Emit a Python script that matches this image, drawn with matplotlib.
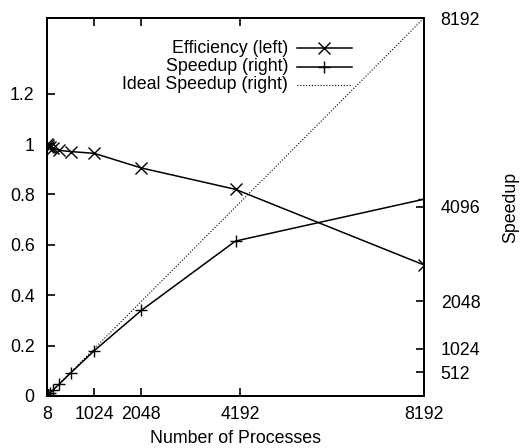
import matplotlib
matplotlib.use("Agg")
import matplotlib.pyplot as plt

plt.rcParams['font.family'] = ['Liberation Sans', 'DejaVu Sans']
plt.rcParams['font.size'] = 12.8

# --- Data ---
procs = [8, 16, 32, 64, 128, 256, 512, 1024, 2048, 4096, 8192]
efficiency = [1.0, 0.995, 0.99, 0.99, 0.985, 0.975, 0.97, 0.963, 0.905, 0.82, 0.52]
speedup = [8, 16, 32, 63, 126, 250, 497, 980, 1853, 3358, 4265]
ideal = [8, 8192]

xticks = [8, 1024, 2048, 4192, 8192]
yticks_left = [0, 0.2, 0.4, 0.6, 0.8, 1.0, 1.2]
ylabels_left = ["0", "0.2", "0.4", "0.6", "0.8", "1", "1.2"]
yticks_right = [512, 1024, 2048, 4096, 8192]

# --- Plot ---
fig = plt.figure(figsize=(5.23, 4.48), dpi=100)
ax = fig.add_axes([0.0899, 0.1161, 0.7208, 0.8437])
ax2 = ax.twinx()

ax.plot(procs, efficiency, color='black', lw=1.1, marker='x', ms=8, mew=1.0)
ax2.plot(procs, speedup, color='black', lw=1.1, marker='+', ms=9, mew=1.0)
ax2.plot(ideal, ideal, color='black', lw=0.8, linestyle=(0, (1, 1.6)))

ax.set_xlim(0, 8192)
ax.set_ylim(0, 1.5)
ax2.set_ylim(0, 8192)

ax.set_xticks(xticks)
ax.set_xticklabels([str(t) for t in xticks])
ax.set_yticks(yticks_left)
ax.set_yticklabels(ylabels_left)
ax2.set_yticks(yticks_right)
ax2.set_yticklabels([str(t) for t in yticks_right])

ax.tick_params(axis='x', direction='in', top=True, length=6, width=1.2, pad=7)
ax.tick_params(axis='y', direction='in', right=False, length=6, width=1.2, pad=9)
ax2.tick_params(axis='y', direction='in', length=6, width=1.2, pad=12)

for a in (ax, ax2):
    for s in a.spines.values():
        s.set_linewidth(1.4)

ax.set_xlabel("Number of Processes", labelpad=5)
ax2.set_ylabel("Speedup", labelpad=16)

# --- Legend (gnuplot style: right-aligned text, sample to the right) ---
entries = [("Efficiency (left)", dict(marker='x', linestyle='-', lw=1.1)),
           ("Speedup (right)", dict(marker='+', linestyle='-', lw=1.1)),
           ("Ideal Speedup (right)", dict(marker=None, linestyle=(0, (1, 1.6)), lw=0.8))]
rows_y = [0.96 - (33.3 - 18) / 378, 0.96 - (51.5 - 18) / 378, 0.96 - (69.5 - 18) / 378]
for (label, style), yy in zip(entries, rows_y):
    ax.text(0.64, yy, label, transform=ax.transAxes, ha='right', va='center')
    ax.plot([0.663, 0.809], [yy, yy], transform=ax.transAxes, color='black',
            linestyle=style['linestyle'], lw=style['lw'])
    if style['marker']:
        ax.plot([0.736], [yy], transform=ax.transAxes, color='black',
                marker=style['marker'], ms=9, mew=1.0, linestyle='none')

fig.savefig("out.png", dpi=100)
